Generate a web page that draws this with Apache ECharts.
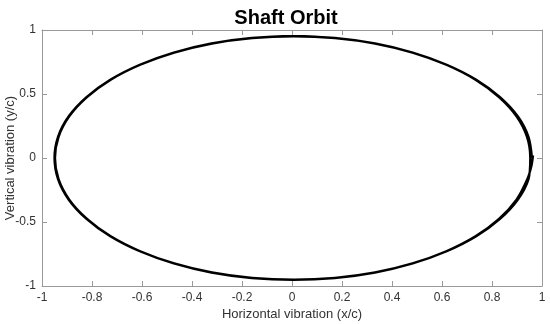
<!DOCTYPE html>
<html><head><meta charset="utf-8">
<script src="https://cdn.jsdelivr.net/npm/echarts@6/dist/echarts.min.js"></script>
<style>html,body{margin:0;padding:0;background:#fff}#c{width:550px;height:324px}</style>
</head><body><div id="c"></div>
<script>
var titleText = "Shaft Orbit";
var xName = "Horizontal vibration (x/c)";
var yName = "Vertical vibration (y/c)";
var orbitX = [0.960,0.946,0.903,0.832,0.737,0.619,0.483,0.332,0.171,0.005,-0.161,-0.322,-0.473,-0.609,-0.727,-0.822,-0.893,-0.936,-0.950,-0.936,-0.893,-0.822,-0.727,-0.609,-0.473,-0.322,-0.161,0.005,0.171,0.332,0.483,0.619,0.737,0.832,0.903,0.946,
  0.953,0.940,0.898,0.828,0.734,0.617,0.482,0.332,0.172,0.007,-0.159,-0.320,-0.471,-0.607,-0.725,-0.820,-0.891,-0.934,-0.948,-0.934,-0.891,-0.820,-0.725,-0.607,-0.471,-0.320,-0.159,0.007,0.172,0.332,0.482,0.617,0.734,0.828,0.898,0.941,0.958,0.964];
var orbitY = [0,0.165,0.326,0.476,0.612,0.729,0.824,0.895,0.938,0.952,0.938,0.895,0.824,0.729,0.612,0.476,0.326,0.165,0,-0.165,-0.326,-0.476,-0.612,-0.729,-0.824,-0.895,-0.938,-0.952,-0.938,-0.895,-0.824,-0.729,-0.612,-0.476,-0.326,-0.165,
  0,0.164,0.325,0.475,0.611,0.728,0.823,0.894,0.937,0.951,0.937,0.894,0.823,0.728,0.611,0.475,0.325,0.164,0,-0.164,-0.325,-0.475,-0.611,-0.728,-0.823,-0.894,-0.937,-0.951,-0.937,-0.894,-0.823,-0.728,-0.611,-0.475,-0.325,-0.166,-0.06,0.02];
var data = orbitX.map(function(x,i){return [x, orbitY[i]];});
var font = "Liberation Sans, Arial, sans-serif";
var axColor = "#999";
function ax(extra){
  return Object.assign({
    type:'value', min:-1, max:1,
    axisLine:{show:true,onZero:false,lineStyle:{color:axColor,width:1}},
    axisTick:{show:true,inside:true,length:5,lineStyle:{color:axColor}},
    splitLine:{show:false},
    axisLabel:{color:'#333',fontSize:12,fontFamily:font,margin:6}
  }, extra);
}
var chart = echarts.init(document.getElementById('c'));
chart.setOption({
  animation:false,
  title:{text:titleText,left:281,top:3,textAlign:'center',textStyle:{fontFamily:font,fontSize:20,fontWeight:'bold',color:'#000'}},
  grid:{left:42,right:8,top:30,bottom:38,containLabel:false,outerBoundsMode:'none'},
  xAxis:[ax({interval:0.2,position:'bottom',name:xName,nameLocation:'middle',nameGap:22,nameMoveOverlap:false,nameTextStyle:{fontFamily:font,fontSize:13,color:'#333'}}),
         ax({interval:0.2,position:'top',axisLabel:{show:false}})],
  yAxis:[ax({interval:0.5,position:'left',name:yName,nameLocation:'middle',nameGap:25,nameMoveOverlap:false,nameTextStyle:{fontFamily:font,fontSize:13,color:'#333'}}),
         ax({interval:0.5,position:'right',axisLabel:{show:false}})],
  series:[{type:'line',data:data,smooth:0.3,showSymbol:false,symbol:'none',lineStyle:{color:'#000',width:2.3},clip:false}]
});
</script></body></html>
